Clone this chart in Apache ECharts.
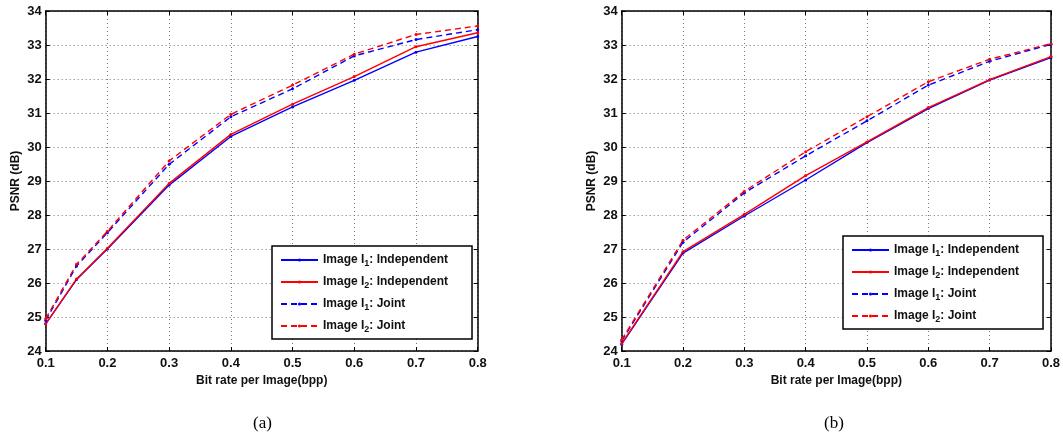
<!DOCTYPE html>
<html>
<head>
<meta charset="utf-8">
<script src="https://cdn.jsdelivr.net/npm/echarts@6/dist/echarts.min.js"></script>
<style>
  html, body { margin: 0; padding: 0; background: #fff; }
  #main { width: 1063px; height: 438px; }
</style>
</head>
<body>
<div id="main"></div>
<script>
// names of the four curves (same in both panels)
var names = ['Image I1: Independent', 'Image I2: Independent', 'Image I1: Joint', 'Image I2: Joint']

// panel (a)
var xA = [0.1, 0.15, 0.2, 0.3, 0.4, 0.5, 0.6, 0.7, 0.8]
var aI1Ind = [24.8, 26.1, 27.0, 28.88, 30.31, 31.18, 31.96, 32.79, 33.25]
var aI2Ind = [24.8, 26.12, 27.02, 28.93, 30.37, 31.26, 32.07, 32.95, 33.36]
var aI1Joint = [24.9, 26.5, 27.48, 29.49, 30.89, 31.71, 32.68, 33.16, 33.45]
var aI2Joint = [24.95, 26.55, 27.52, 29.59, 30.96, 31.82, 32.73, 33.31, 33.56]

// panel (b)
var xB = [0.1, 0.2, 0.3, 0.4, 0.5, 0.6, 0.7, 0.8]
var bI1Ind = [24.2, 26.88, 27.97, 29.03, 30.13, 31.13, 31.97, 32.63]
var bI2Ind = [24.22, 26.92, 28.02, 29.16, 30.15, 31.16, 31.98, 32.66]
var bI1Joint = [24.3, 27.2, 28.65, 29.74, 30.77, 31.82, 32.52, 33.02]
var bI2Joint = [24.33, 27.26, 28.7, 29.86, 30.89, 31.92, 32.58, 33.04]

// axis ranges
var xMin = 0.1, xMax = 0.8, xStep = 0.1
var yMin = 24, yMax = 34, yStep = 1

var font = 'Liberation Sans'
var blue = '#0000ff'
var red = '#ff0000'

function pairs (xs, ys) {
  return xs.map(function (x, i) { return [x, ys[i]] })
}

function bottomX (gi) {
  return {
    type: 'value', gridIndex: gi, min: xMin, max: xMax, interval: xStep,
    name: 'Bit rate per Image(bpp)', nameLocation: 'middle', nameGap: 20,
    nameTextStyle: { fontFamily: font, fontWeight: 'bold', fontSize: 12, color: '#111' },
    axisLine: { lineStyle: { color: '#000', width: 1.5 } },
    axisTick: { inside: true, length: 4, lineStyle: { color: '#000' } },
    axisLabel: {
      fontFamily: font, fontWeight: 'bold', fontSize: 13, color: '#111', margin: 6,
      formatter: function (v) { return v.toFixed(1) }
    },
    splitLine: { show: true, lineStyle: { color: '#777', type: [1, 3], width: 1 } }
  }
}

function topX (gi) {
  return {
    type: 'value', gridIndex: gi, position: 'top', min: xMin, max: xMax, interval: xStep,
    axisLine: { lineStyle: { color: '#000', width: 1.5 } },
    axisTick: { inside: true, length: 4, lineStyle: { color: '#000' } },
    axisLabel: { show: false },
    splitLine: { show: false }
  }
}

function leftY (gi) {
  return {
    type: 'value', gridIndex: gi, min: yMin, max: yMax, interval: yStep,
    name: 'PSNR (dB)', nameLocation: 'middle', nameGap: 24, nameRotate: 90,
    nameTextStyle: { fontFamily: font, fontWeight: 'bold', fontSize: 12, color: '#111' },
    axisLine: { lineStyle: { color: '#000', width: 1.5 } },
    axisTick: { inside: true, length: 4, lineStyle: { color: '#000' } },
    axisLabel: { fontFamily: font, fontWeight: 'bold', fontSize: 13, color: '#111', margin: 4 },
    splitLine: { show: true, lineStyle: { color: '#777', type: [1, 3], width: 1 } }
  }
}

function rightY (gi) {
  return {
    type: 'value', gridIndex: gi, position: 'right', min: yMin, max: yMax, interval: yStep,
    axisLine: { lineStyle: { color: '#000', width: 1.5 } },
    axisTick: { inside: true, length: 4, lineStyle: { color: '#000' } },
    axisLabel: { show: false },
    splitLine: { show: false }
  }
}

function line (name, gi, xs, ys, color, dashed) {
  return {
    name: name, type: 'line', xAxisIndex: gi * 2, yAxisIndex: gi * 2,
    data: pairs(xs, ys),
    symbol: 'circle', symbolSize: 3, showSymbol: true,
    itemStyle: { color: color },
    lineStyle: { color: color, width: 1.4, type: dashed ? [6, 4] : 'solid' },
    animation: false
  }
}

function legendAt (left, top) {
  return {
    data: names, orient: 'vertical', left: left, top: top,
    padding: [8, 24, 5, 8],
    itemWidth: 37, itemHeight: 4, itemGap: 8,
    backgroundColor: '#fff', borderColor: '#000', borderWidth: 1.5,
    selectedMode: false,
    formatter: function (n) { return n.replace(/I(\d)/, 'I{s|$1}') },
    textStyle: {
      fontFamily: font, fontWeight: 'bold', fontSize: 12, color: '#111',
      rich: { s: { fontFamily: font, fontWeight: 'bold', fontSize: 9, color: '#111', padding: [7, 0, 0, 0] } }
    }
  }
}

var chart = echarts.init(document.getElementById('main'))
var option = {
  backgroundColor: '#fff',
  animation: false,
  grid: [
    { left: 45.7, top: 11, width: 432, height: 340, show: false },
    { left: 621.7, top: 11, width: 431.6, height: 340, show: false }
  ],
  xAxis: [bottomX(0), topX(0), bottomX(1), topX(1)],
  yAxis: [leftY(0), rightY(0), leftY(1), rightY(1)],
  legend: [legendAt(272, 246), legendAt(843, 236)],
  series: [
    line(names[0], 0, xA, aI1Ind, blue, false),
    line(names[1], 0, xA, aI2Ind, red, false),
    line(names[2], 0, xA, aI1Joint, blue, true),
    line(names[3], 0, xA, aI2Joint, red, true),
    line(names[0], 1, xB, bI1Ind, blue, false),
    line(names[1], 1, xB, bI2Ind, red, false),
    line(names[2], 1, xB, bI1Joint, blue, true),
    line(names[3], 1, xB, bI2Joint, red, true)
  ],
  graphic: [
    { type: 'text', left: 253, top: 415, style: { text: '(a)', font: '17px "Liberation Serif"', fill: '#000' } },
    { type: 'text', left: 824, top: 415, style: { text: '(b)', font: '17px "Liberation Serif"', fill: '#000' } }
  ]
}
chart.setOption(option)
</script>
</body>
</html>
